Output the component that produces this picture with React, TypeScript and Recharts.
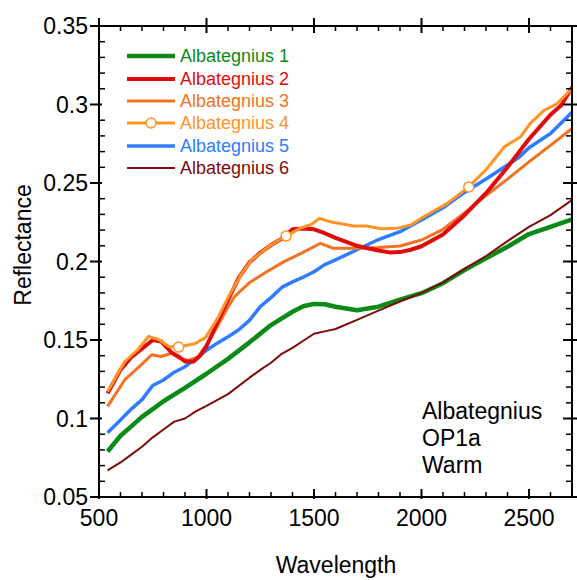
import React from 'react';
import { LineChart, Line, XAxis, YAxis, Legend, Customized } from 'recharts';

const FONT = '"Liberation Sans", Arial, Helvetica, sans-serif';

const seriesNames = ['Albategnius 1', 'Albategnius 2', 'Albategnius 3', 'Albategnius 4', 'Albategnius 5', 'Albategnius 6'];
const colors = ['#0b8a18', '#e00c0c', '#f27222', '#ff9426', '#2f7dff', '#7d0b0b'];
const widths = [4.5, 4, 3, 3, 3.5, 2];

const alb1Wl = [540, 600, 650, 700, 750, 800, 900, 1000, 1100, 1200, 1300, 1400, 1450, 1500, 1550, 1600, 1700, 1800, 1900, 2000, 2100, 2200, 2300, 2400, 2500, 2600, 2700];
const alb1R = [0.079, 0.089, 0.095, 0.101, 0.106, 0.111, 0.1195, 0.1285, 0.138, 0.1485, 0.1595, 0.168, 0.1715, 0.173, 0.1728, 0.1712, 0.169, 0.1712, 0.1757, 0.1798, 0.1862, 0.1946, 0.202, 0.2094, 0.2175, 0.2221, 0.2268];

const alb2Wl = [540, 600, 650, 700, 750, 790, 840, 870, 900, 940, 970, 1000, 1050, 1100, 1150, 1200, 1250, 1300, 1350, 1400, 1450, 1500, 1550, 1600, 1650, 1700, 1750, 1800, 1850, 1900, 1950, 2000, 2100, 2200, 2300, 2400, 2500, 2550, 2600, 2650, 2700];
const alb2R = [0.116, 0.131, 0.139, 0.1445, 0.15, 0.149, 0.1417, 0.1395, 0.1363, 0.1363, 0.14, 0.146, 0.161, 0.1755, 0.1895, 0.1995, 0.2055, 0.2105, 0.2145, 0.2205, 0.221, 0.2205, 0.218, 0.215, 0.2125, 0.21, 0.2084, 0.207, 0.2058, 0.206, 0.2075, 0.2097, 0.2172, 0.2295, 0.2435, 0.26, 0.278, 0.2857, 0.2935, 0.2995, 0.311];

const alb3Wl = [540, 620, 680, 745, 790, 840, 870, 915, 960, 1010, 1055, 1100, 1130, 1200, 1280, 1360, 1440, 1530, 1590, 1690, 1800, 1900, 2000, 2100, 2200, 2300, 2400, 2500, 2600, 2700];
const alb3R = [0.1077, 0.1247, 0.1321, 0.1406, 0.1395, 0.1417, 0.1385, 0.137, 0.1391, 0.149, 0.1597, 0.171, 0.1776, 0.1865, 0.1935, 0.1999, 0.2052, 0.2116, 0.2084, 0.2084, 0.2089, 0.2099, 0.2137, 0.2205, 0.231, 0.242, 0.2525, 0.2635, 0.274, 0.2847];

const alb4Wl = [540, 620, 680, 730, 775, 825, 870, 945, 995, 1050, 1100, 1165, 1210, 1250, 1300, 1370, 1435, 1490, 1525, 1575, 1685, 1745, 1810, 1885, 1950, 2010, 2120, 2220, 2305, 2385, 2460, 2505, 2570, 2630, 2700];
const alb4R = [0.1172, 0.1363, 0.1438, 0.1522, 0.1505, 0.1459, 0.1455, 0.1476, 0.1515, 0.1635, 0.177, 0.1925, 0.201, 0.2052, 0.2105, 0.2162, 0.2211, 0.2238, 0.2275, 0.2253, 0.2226, 0.2226, 0.2208, 0.2211, 0.2232, 0.2285, 0.237, 0.2475, 0.2592, 0.273, 0.2793, 0.2878, 0.2963, 0.3005, 0.3101];
const alb4MarkerWl = [870, 1370, 2220];

const alb5Wl = [540, 600, 650, 700, 750, 800, 850, 900, 950, 1000, 1050, 1100, 1150, 1200, 1250, 1300, 1350, 1400, 1450, 1500, 1550, 1600, 1700, 1800, 1900, 2000, 2100, 2200, 2300, 2400, 2450, 2500, 2600, 2700];
const alb5R = [0.091, 0.099, 0.106, 0.112, 0.121, 0.1245, 0.1295, 0.133, 0.138, 0.1435, 0.148, 0.152, 0.1565, 0.1625, 0.1713, 0.177, 0.1835, 0.187, 0.19, 0.1935, 0.198, 0.201, 0.2075, 0.214, 0.219, 0.2265, 0.2342, 0.244, 0.2525, 0.2615, 0.266, 0.2725, 0.2815, 0.295];

const alb6Wl = [540, 600, 650, 700, 750, 800, 850, 900, 950, 1000, 1100, 1200, 1250, 1300, 1350, 1400, 1450, 1500, 1550, 1600, 1700, 1800, 1900, 2000, 2100, 2200, 2300, 2400, 2500, 2600, 2700];
const alb6R = [0.067, 0.072, 0.077, 0.082, 0.088, 0.093, 0.098, 0.1, 0.1045, 0.108, 0.1155, 0.126, 0.131, 0.1355, 0.1412, 0.145, 0.1495, 0.154, 0.1555, 0.157, 0.1628, 0.1687, 0.1745, 0.18, 0.1867, 0.1953, 0.2035, 0.213, 0.222, 0.2295, 0.2391];

const xTicks = [500, 600, 700, 800, 900, 1000, 1100, 1200, 1300, 1400, 1500, 1600, 1700, 1800, 1900, 2000, 2100, 2200, 2300, 2400, 2500, 2600, 2700];
const xMajor = [500, 1000, 1500, 2000, 2500];
const yTicks = [0.05, 0.06, 0.07, 0.08, 0.09, 0.1, 0.11, 0.12, 0.13, 0.14, 0.15, 0.16, 0.17, 0.18, 0.19, 0.2, 0.21, 0.22, 0.23, 0.24, 0.25, 0.26, 0.27, 0.28, 0.29, 0.3, 0.31, 0.32, 0.33, 0.34, 0.35];
const yMajor = [0.05, 0.1, 0.15, 0.2, 0.25, 0.3, 0.35];

const zip = (wl: number[], r: number[]) => wl.map((w, i) => ({ wl: w, r: r[i] }));
const seriesData = [zip(alb1Wl, alb1R), zip(alb2Wl, alb2R), zip(alb3Wl, alb3R), zip(alb4Wl, alb4R), zip(alb5Wl, alb5R), zip(alb6Wl, alb6R)];
const drawOrder = [0, 5, 4, 2, 1, 3];

const TICK: Record<string, { majIn: number; majOut: number; minIn: number }> = {
  bottom: { majIn: 8, majOut: 2, minIn: 5 },
  top: { majIn: 7, majOut: 8, minIn: 5 },
  left: { majIn: 3, majOut: 9, minIn: 6 },
  right: { majIn: 9, majOut: 5, minIn: 6 },
};

const isMajor = (v: number, list: number[]) => list.some((m) => Math.abs(m - v) < 1e-9);

const renderTick = (p: any, side: string) => {
  const { x, y, payload } = p;
  const v = payload.value;
  const t = TICK[side];
  const key = `${side}-${v}`;
  if (side === 'bottom' || side === 'top') {
    const major = isMajor(v, xMajor);
    const dir = side === 'bottom' ? -1 : 1;
    const inLen = major ? t.majIn : t.minIn;
    const outLen = major ? t.majOut : 0;
    return (
      <g key={key}>
        <line x1={x} x2={x} y1={y + dir * inLen} y2={y - dir * outLen} stroke="#000" strokeWidth={major ? 2 : 1.5} />
        {major && side === 'bottom' && (
          <text x={x} y={y + 29} textAnchor="middle" fontSize={23} fontFamily={FONT} fill="#000">{v}</text>
        )}
      </g>
    );
  }
  const major = isMajor(v, yMajor);
  const dir = side === 'left' ? 1 : -1;
  const inLen = major ? t.majIn : t.minIn;
  const outLen = major ? t.majOut : 0;
  return (
    <g key={key}>
      <line x1={x + dir * inLen} x2={x - dir * outLen} y1={y} y2={y} stroke="#000" strokeWidth={major ? 2 : 1.5} />
      {major && side === 'left' && (
        <text x={x - 11} y={y + 8} textAnchor="end" fontSize={23} fontFamily={FONT} fill="#000">{String(v)}</text>
      )}
    </g>
  );
};

const renderLegend = () => (
  <div style={{ fontFamily: FONT }}>
    {seriesNames.map((n, i) => (
      <div key={n} style={{ display: 'flex', alignItems: 'center', height: 22.4 }}>
        <svg width={48} height={22} style={{ display: 'block' }}>
          <line x1={0} x2={48} y1={11} y2={11} stroke={colors[i]} strokeWidth={widths[i]} />
          {i === 3 && <circle cx={24} cy={11} r={5} fill="#fff" stroke={colors[i]} strokeWidth={1.5} />}
        </svg>
        <span style={{ marginLeft: 5, fontSize: 18, color: colors[i], lineHeight: '22px', whiteSpace: 'nowrap' }}>{n}</span>
      </div>
    ))}
  </div>
);

const Annotations = () => (
  <g fontFamily={FONT} fill="#000">
    <text x={422} y={419} fontSize={23}>Albategnius</text>
    <text x={422} y={446} fontSize={23}>OP1a</text>
    <text x={422} y={473} fontSize={23}>Warm</text>
    <text x={336} y={573} fontSize={23} textAnchor="middle">Wavelength</text>
    <text transform="translate(31,245) rotate(-90)" x={0} y={0} fontSize={23} textAnchor="middle">Reflectance</text>
  </g>
);

const renderMarker = (p: any) => {
  const { cx, cy, payload, index } = p;
  if (payload && alb4MarkerWl.includes(payload.wl)) {
    return <circle key={`m-${index}`} cx={cx} cy={cy} r={5} fill="#fff" stroke={colors[3]} strokeWidth={1.5} />;
  }
  return <g key={`m-${index}`} />;
};

export default function App() {
  const axisLine = { stroke: '#000', strokeWidth: 2 };
  return (
    <div style={{ position: 'absolute', left: 0, top: 0, width: 577, height: 580, background: '#fff' }}>
      <LineChart width={577} height={580} margin={{ top: 25, right: 4, bottom: 82, left: 98 }}>
        <XAxis xAxisId="b" dataKey="wl" type="number" domain={[500, 2700]} ticks={xTicks} interval={0} height={1}
          tickSize={0} tickMargin={0} tickLine={false} axisLine={axisLine} allowDataOverflow
          tick={(p: any) => renderTick(p, 'bottom')} />
        <XAxis xAxisId="t" orientation="top" dataKey="wl" type="number" domain={[500, 2700]} ticks={xTicks} interval={0} height={1}
          tickSize={0} tickMargin={0} tickLine={false} axisLine={axisLine} allowDataOverflow
          tick={(p: any) => renderTick(p, 'top')} />
        <YAxis yAxisId="l" type="number" domain={[0.05, 0.35]} ticks={yTicks} interval={0} width={1}
          tickSize={0} tickMargin={0} tickLine={false} axisLine={axisLine} allowDataOverflow
          tick={(p: any) => renderTick(p, 'left')} />
        <YAxis yAxisId="r" orientation="right" type="number" domain={[0.05, 0.35]} ticks={yTicks} interval={0} width={1}
          tickSize={0} tickMargin={0} tickLine={false} axisLine={axisLine} allowDataOverflow
          tick={(p: any) => renderTick(p, 'right')} />
        {drawOrder.map((i) => (
          <Line key={seriesNames[i]} xAxisId="b" yAxisId="l" data={seriesData[i]} dataKey="r" name={seriesNames[i]}
            type="linear" stroke={colors[i]} strokeWidth={widths[i]} strokeLinejoin="round"
            dot={i === 3 ? renderMarker : false} activeDot={false} isAnimationActive={false} />
        ))}
        <Legend verticalAlign="middle" align="center" content={renderLegend}
          wrapperStyle={{ left: 127, top: 45, width: 'auto', height: 'auto' }} />
        <Customized component={Annotations} />
      </LineChart>
    </div>
  );
}
